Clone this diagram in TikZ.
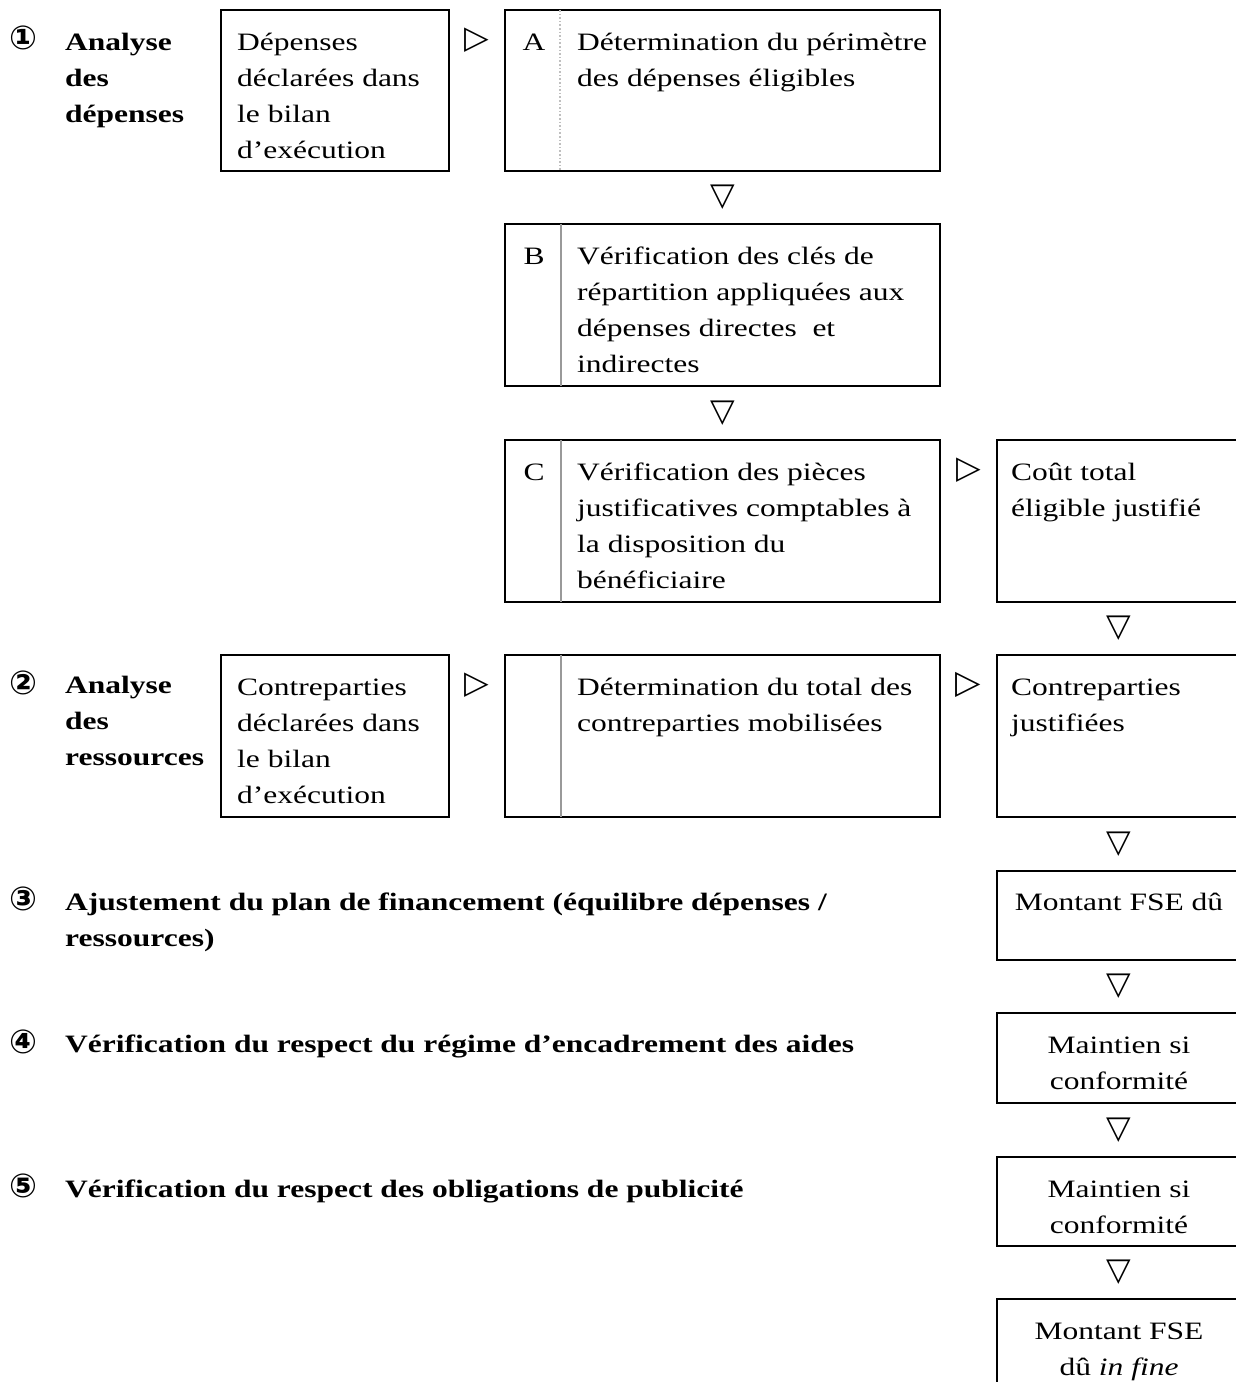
\documentclass[tikz,border=0pt]{standalone}
\usepackage{fontspec}
\setmainfont{Liberation Serif}[FakeStretch=1.26]
\newfontfamily\symfont{DejaVu Sans}
\usepackage{tikz}
\usetikzlibrary{positioning,calc}
\tikzstyle{box}=[draw, line width=2.4pt, inner sep=0pt, outer sep=0pt, anchor=north west]
\tikzstyle{txt}=[inner sep=0pt, align=left, anchor=north west, font=\fontsize{25}{36}\selectfont]
\tikzstyle{ctxt}=[txt, align=center, anchor=north]
\tikzstyle{head}=[txt, font=\fontsize{25}{36}\selectfont\bfseries]
\tikzstyle{num}=[inner sep=0pt, font=\symfont\bfseries\fontsize{33}{33}\selectfont]
\tikzstyle{tri}=[inner sep=0pt, font=\symfont\fontsize{32}{32}\selectfont]
\tikzstyle{sep}=[line width=1.6pt, black!40]

\begin{document}
\begin{tikzpicture}[x=1pt, y=-1pt]
      \useasboundingbox (0,0) rectangle (1236,1382);
      % analyse des depenses
      \node[num] (n1) at (23,38) {①};
      \node[head] (h1) at (65,25) {\strut Analyse\\des\\dépenses};
      \node[box, minimum width=228, minimum height=161] (dep) at (221,10) {};
      \node[box, minimum width=435, minimum height=161, right=56pt of dep] (A) {};
      \node[box, minimum width=435, minimum height=162, below=53pt of A] (B) {};
      \node[box, minimum width=435, minimum height=162, below=54pt of B] (C) {};
      \node[box, minimum width=244, minimum height=162, right=57pt of C] (cout) {};
      %
      \node[txt] (depT) at ($(dep.north west)+(16,15)$) {\strut Dépenses\\déclarées dans\\le bilan\\d’exécution};
      \node[txt, anchor=north] (Al) at ($(A.north west)+(29,15)$) {\strut A};
      \node[txt, anchor=north] (Bl) at ($(B.north west)+(29,15)$) {\strut B};
      \node[txt, anchor=north] (Cl) at ($(C.north west)+(29,15)$) {\strut C};
      \draw[sep, black!25, dotted] ([xshift=55pt]A.north west) -- ([xshift=55pt]A.south west);
      \draw[sep] ([xshift=56pt]B.north west) -- ([xshift=56pt]B.south west);
      \draw[sep] ([xshift=56pt]C.north west) -- ([xshift=56pt]C.south west);
      \node[txt] (AT) at ($(A.north west)+(72,15)$) {\strut Détermination du périmètre\\des dépenses éligibles};
      \node[txt] (BT) at ($(B.north west)+(72,15)$) {\strut Vérification des clés de\\répartition appliquées aux\\dépenses directes~ et\\indirectes};
      \node[txt] (CT) at ($(C.north west)+(72,15)$) {\strut Vérification des pièces\\justificatives comptables à\\la disposition du\\bénéficiaire};
      \node[txt] (coutT) at ($(cout.north west)+(14,15)$) {\strut Coût total\\éligible justifié};
      %
      \node[tri] (t1) at ($(dep.north east)!.5!(A.north west)+(0,30)$) {▷};
      \node[tri] (t2) at ($(A.south)!.5!(B.north)$) {▽};
      \node[tri] (t3) at ($(B.south)!.5!(C.north)$) {▽};
      \node[tri] (t4) at ($(C.north east)!.5!(cout.north west)+(0,30)$) {▷};
      % analyse des ressources
      \node[num] (n2) at (23,683) {②};
      \node[head] (h2) at (65,668) {\strut Analyse\\des\\ressources};
      \node[box, minimum width=228, minimum height=162] (dep2) at (221,655) {};
      \node[box, minimum width=435, minimum height=162, right=56pt of dep2] (D) {};
      \node[box, minimum width=244, minimum height=162, below=53pt of cout] (just) {};
      \draw[sep] ([xshift=56pt]D.north west) -- ([xshift=56pt]D.south west);
      \node[txt] (dep2T) at ($(dep2.north west)+(16,15)$) {\strut Contreparties\\déclarées dans\\le bilan\\d’exécution};
      \node[txt] (DT) at ($(D.north west)+(72,15)$) {\strut Détermination du total des\\contreparties mobilisées};
      \node[txt] (justT) at ($(just.north west)+(14,15)$) {\strut Contreparties\\justifiées};
      \node[tri] (t5) at ($(cout.south)!.5!(just.north)$) {▽};
      \node[tri] (t6) at ($(dep2.north east)!.5!(D.north west)+(0,30)$) {▷};
      \node[tri, font=\symfont\bfseries\fontsize{33}{33}\selectfont] (t7) at ($(D.north east)!.5!(just.north west)+(0,30)$) {▷};
      % montants
      \node[box, minimum width=244, minimum height=89, below=54pt of just] (fse) {};
      \node[box, minimum width=244, minimum height=90, below=53pt of fse] (m1) {};
      \node[box, minimum width=244, minimum height=89, below=54pt of m1] (m2) {};
      \node[box, minimum width=244, minimum height=90, below=53pt of m2] (fin) {};
      \node[ctxt] (fseT) at ($(fse.north)+(0,14)$) {\strut Montant FSE dû};
      \node[ctxt] (m1T) at ($(m1.north)+(0,15)$) {\strut Maintien si\\conformité};
      \node[ctxt] (m2T) at ($(m2.north)+(0,15)$) {\strut Maintien si\\conformité};
      \node[ctxt] (finT) at ($(fin.north)+(0,15)$) {\strut Montant FSE\\dû \textit{in fine}};
      \node[tri] (t8) at ($(just.south)!.5!(fse.north)$) {▽};
      \node[tri] (t9) at ($(fse.south)!.5!(m1.north)$) {▽};
      \node[tri] (t10) at ($(m1.south)!.5!(m2.north)$) {▽};
      \node[tri] (t11) at ($(m2.south)!.5!(fin.north)$) {▽};
      % etapes 3 a 5
      \node[num] (n3) at (23,899) {③};
      \node[head] (h3) at (65,885) {\strut Ajustement du plan de financement (équilibre dépenses /\\ressources)};
      \node[num] (n4) at (23,1042) {④};
      \node[head] (h4) at (65,1027) {\strut Vérification du respect du régime d’encadrement des aides};
      \node[num] (n5) at (23,1186) {⑤};
      \node[head] (h5) at (65,1172) {\strut Vérification du respect des obligations de publicité};
\end{tikzpicture}
\end{document}
